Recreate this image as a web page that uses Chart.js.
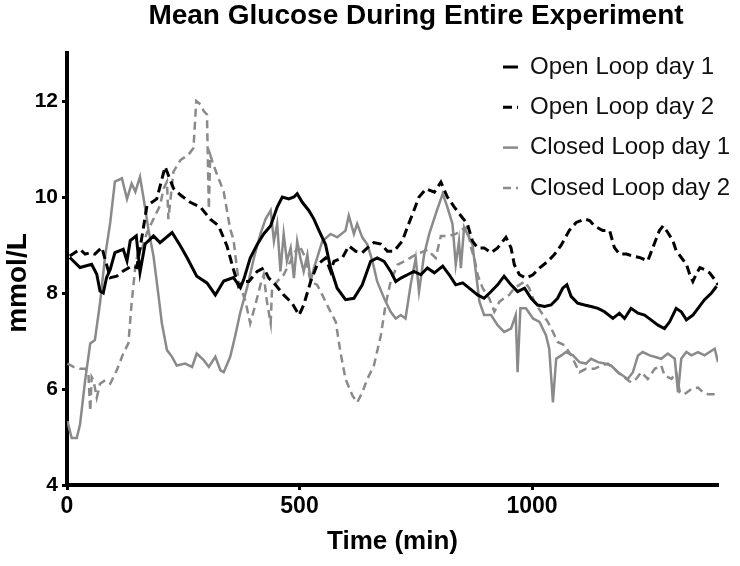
<!DOCTYPE html>
<html lang="en">
<head>
  <meta charset="UTF-8" />
  <title>Mean Glucose During Entire Experiment</title>
  <script src="https://cdn.jsdelivr.net/npm/chart.js"></script>
  <style>
    body {
      margin: 0;
      background: #fff;
    }
    canvas {
      display: block;
    }
  </style>
</head>
<body>

  <canvas id="glucoseChart" width="740" height="566"></canvas>

  <script>
    // time (min) / glucose (mmol/L)
    const olDay1Time = [6, 28, 53, 64, 71, 78, 85, 93, 103, 121, 129, 136, 149, 157, 168, 186, 200, 226, 244, 258, 279, 301, 319, 337, 358, 373,
      380, 394, 409, 423, 438, 452, 463, 477, 488, 495, 506, 520, 531, 542, 556, 567, 581, 599, 617, 635, 653, 667, 682, 696, 707, 718,
      732, 746, 761, 775, 790, 808, 822, 836, 851, 865, 883, 897, 912, 926, 940, 955, 969, 984, 998, 1012, 1027, 1041, 1055, 1066,
      1075, 1084, 1098, 1113, 1127, 1142, 1156, 1174, 1188, 1199, 1213, 1228, 1242, 1256, 1271, 1285, 1296, 1310, 1321, 1332, 1346, 1357, 1371, 1386, 1397];
    const olDay1Value = [8.74, 8.53, 8.60, 8.39, 8.04, 8.00, 8.32, 8.49, 8.84, 8.91, 8.67, 9.09, 9.19, 8.43, 9.02, 9.19, 9.05, 9.26, 8.98, 8.74, 8.35, 8.21, 7.96, 8.25, 8.32, 8.11,
      8.28, 8.73, 9.01, 9.23, 9.40, 9.79, 10.0, 9.96, 10.0, 10.07, 9.89, 9.72, 9.54, 9.30, 9.01, 8.52, 8.10, 7.86, 7.89, 8.17, 8.66, 8.73, 8.66, 8.45, 8.24, 8.31,
      8.38, 8.45, 8.38, 8.52, 8.42, 8.56, 8.38, 8.17, 8.21, 8.10, 7.96, 7.89, 8.03, 8.17, 8.35, 8.17, 8.03, 8.10, 7.89, 7.75, 7.72, 7.75, 7.89, 8.10,
      8.17, 7.93, 7.79, 7.75, 7.72, 7.68, 7.61, 7.47, 7.58, 7.47, 7.68, 7.58, 7.54, 7.44, 7.33, 7.26, 7.40, 7.68, 7.61, 7.44, 7.54, 7.68, 7.86, 8.00, 8.14];

    const olDay2Time = [6, 28, 39, 50, 60, 75, 82, 93, 107, 121, 139, 150, 161, 172, 193, 211, 229, 244, 265, 287, 308, 326, 344, 358, 369,
      380, 391, 409, 423, 434, 445, 466, 484, 499, 509, 524, 538, 556, 567, 574, 592, 606, 621, 635, 646, 660, 675, 689, 703, 721, 732,
      746, 757, 772, 790, 804, 818, 833, 847, 861, 872, 883, 897, 912, 926, 944, 955, 962, 973, 987, 1002, 1016, 1034, 1048, 1063,
      1080, 1095, 1113, 1124, 1134, 1152, 1167, 1177, 1188, 1203, 1217, 1231, 1249, 1260, 1274, 1282, 1292, 1303, 1310, 1321, 1332, 1339, 1346, 1353, 1361, 1371, 1382, 1393, 1400];
    const olDay2Value = [8.77, 8.91, 8.81, 8.84, 8.81, 8.95, 8.70, 8.32, 8.35, 8.46, 8.56, 8.53, 9.16, 9.82, 9.96, 10.63, 10.18, 10.04, 9.89, 9.79, 9.54, 9.40, 8.98, 8.49, 8.14,
      8.24, 8.24, 8.45, 8.52, 8.31, 8.21, 7.96, 7.79, 7.54, 7.75, 8.24, 8.59, 8.73, 8.45, 8.66, 8.73, 8.98, 8.87, 8.84, 8.94, 9.05, 9.02, 8.87, 8.87, 9.08, 9.37,
      9.72, 10.0, 10.17, 10.10, 10.31, 10.0, 9.79, 9.61, 9.44, 9.08, 8.94, 8.94, 8.84, 8.94, 9.16, 8.94, 8.59, 8.38, 8.31, 8.38, 8.52, 8.66, 8.80, 9.00,
      9.30, 9.47, 9.54, 9.51, 9.40, 9.30, 9.30, 8.95, 8.81, 8.81, 8.77, 8.74, 8.67, 8.95, 9.30, 9.40, 9.26, 9.09, 8.88, 8.74, 8.60, 8.39, 8.24, 8.39, 8.53, 8.49, 8.42, 8.28, 8.17];

    const clDay1Time = [1, 10, 21, 28, 39, 50, 60, 71, 82, 93, 103, 118, 129, 139, 147, 157, 165, 175, 186, 197, 204, 215, 226, 236, 254, 269, 279, 294, 305, 319, 330, 337, 351,
      362, 373, 387, 402, 416, 427, 438, 445, 452, 459, 466, 473, 481, 488, 495, 502, 509, 517, 524, 531, 538, 549, 567, 581, 599, 606, 617, 624, 635, 646, 657, 667, 682, 696, 707, 718,
      728, 739, 750, 757, 768, 779, 793, 808, 818, 829, 836, 843, 847, 854, 861, 872, 887, 897, 912, 926, 940, 955, 965, 969, 975, 987, 1002, 1016, 1030, 1037, 1045, 1052, 1063,
      1073, 1088, 1102, 1116, 1127, 1142, 1156, 1170, 1185, 1195, 1206, 1217, 1228, 1238, 1253, 1267, 1278, 1292, 1307, 1314, 1321, 1332, 1343, 1357, 1371, 1382, 1393, 1400];
    const clDay1Value = [5.33, 4.98, 4.98, 5.26, 6.18, 6.95, 7.02, 7.79, 8.77, 9.47, 10.32, 10.39, 9.96, 10.28, 10.11, 10.42, 9.96, 9.33, 8.77, 7.93, 7.37, 6.81, 6.67, 6.49, 6.53, 6.46, 6.74, 6.60, 6.46, 6.67, 6.39, 6.35, 6.67,
      7.12, 7.61, 8.10, 8.73, 9.23, 9.54, 9.72, 9.08, 9.44, 8.45, 9.23, 8.66, 8.94, 8.31, 9.08, 8.73, 8.45, 8.80, 8.24, 8.52, 8.73, 9.08, 9.23, 9.16, 9.30, 9.61, 9.23, 9.44, 9.16, 9.01, 8.66, 8.24, 7.89, 7.61, 7.47, 7.54,
      7.47, 8.17, 8.73, 8.03, 8.80, 9.23, 9.65, 10.07, 9.79, 9.44, 8.59, 9.08, 8.52, 9.37, 9.23, 9.01, 7.82, 7.54, 7.54, 7.33, 7.19, 7.26, 7.54, 6.35, 7.68, 7.68, 7.47, 7.40, 7.12, 6.84, 5.72, 6.63, 6.70,
      6.77, 6.70, 6.56, 6.53, 6.63, 6.56, 6.53, 6.49, 6.35, 6.28, 6.21, 6.35, 6.70, 6.77, 6.70, 6.66, 6.63, 6.74, 6.63, 5.93, 6.63, 6.77, 6.70, 6.77, 6.70, 6.77, 6.84, 6.56];

    const clDay2Time = [1, 14, 28, 39, 46, 50, 53, 57, 64, 71, 82, 93, 107, 121, 132, 139, 147, 154, 161, 172, 186, 200, 208, 215, 218, 229, 244, 261, 272, 278, 287, 294, 301, 305, 308, 315, 323, 337, 351, 358,
      369, 384, 394, 405, 416, 423, 430, 438, 441, 452, 466, 484, 499, 513, 524, 538, 549, 563, 578, 588, 599, 614, 624, 635, 646, 660, 675, 685, 696, 711, 725,
      750, 775, 793, 804, 822, 836, 851, 861, 869, 876, 883, 894, 908, 919, 930, 940, 951, 962, 973, 984, 994, 1005, 1019, 1034, 1045, 1055, 1070,
      1084, 1102, 1116, 1134, 1149, 1163, 1177, 1192, 1203, 1213, 1224, 1235, 1249, 1264, 1278, 1285, 1300, 1310, 1318, 1328, 1343, 1357, 1368, 1379, 1393, 1400];
    const clDay2Value = [6.53, 6.46, 6.42, 6.42, 6.32, 5.54, 6.25, 6.18, 5.82, 6.11, 6.18, 6.11, 6.39, 6.74, 6.95, 7.79, 8.56, 8.91, 8.91, 9.26, 9.54, 9.82, 10.18, 10.32, 9.54, 10.53, 10.77, 10.88, 11.02, 12.0, 11.93, 11.79, 11.72, 9.75, 10.88, 10.67, 10.46, 10.11, 9.33, 9.12,
      8.24, 7.82, 7.37, 7.75, 8.17, 8.38, 7.82, 7.37, 8.10, 8.24, 8.38, 8.73, 9.01, 8.73, 8.24, 8.17, 7.96, 7.68, 7.40, 6.77, 6.21, 5.86, 5.72, 5.93, 6.21, 6.49, 7.12, 7.75, 8.24, 8.59, 8.66,
      8.80, 8.90, 8.73, 9.19, 9.19, 9.23, 9.33, 9.37, 8.94, 8.73, 8.38, 8.10, 7.89, 7.61, 7.82, 7.89, 7.96, 8.10, 8.17, 8.24, 8.10, 7.82, 7.61, 7.40, 7.19, 6.98, 6.91,
      6.70, 6.35, 6.42, 6.42, 6.49, 6.53, 6.42, 6.28, 6.21, 6.14, 6.21, 6.35, 6.21, 6.42, 6.49, 6.28, 6.21, 6.35, 5.93, 5.89, 6.00, 6.03, 5.93, 5.89, 5.89, 5.89];

    const seriesLabels = ['Open Loop day 1', 'Open Loop day 2', 'Closed Loop day 1', 'Closed Loop day 2'];
    const xTicks = [0, 500, 1000];
    const yTicks = [4, 6, 8, 10, 12];

    const FONT = "'Liberation Sans', Arial, sans-serif";

    function toPoints(times, values) {
      return times.map((t, i) => ({ x: t, y: values[i] }));
    }

    // title, y title and in-plot legend, placed where the figure has them
    const figureText = {
      id: 'figureText',
      afterDraw(chart) {
        const ctx = chart.ctx;
        ctx.save();
        ctx.fillStyle = '#000';
        ctx.font = 'bold 28px ' + FONT;
        ctx.textAlign = 'center';
        ctx.textBaseline = 'middle';
        ctx.fillText('Mean Glucose During Entire Experiment', 416, 16);

        ctx.save();
        ctx.translate(18, 283);
        ctx.rotate(-Math.PI / 2);
        ctx.fillText('mmol/L', 0, 0);
        ctx.restore();

        ctx.font = '24px ' + FONT;
        ctx.textAlign = 'left';
        chart.data.datasets.forEach((ds, i) => {
          const y = 67 + i * 40.3;
          ctx.strokeStyle = ds.borderColor;
          ctx.lineWidth = ds.borderWidth;
          ctx.setLineDash(ds.borderDash || []);
          ctx.beginPath();
          ctx.moveTo(503, y);
          ctx.lineTo(518, y);
          ctx.stroke();
          ctx.setLineDash([]);
          ctx.fillStyle = '#111';
          ctx.fillText(ds.label, 530, y);
        });
        ctx.restore();
      }
    };

    const ctx = document.getElementById('glucoseChart').getContext('2d');
    new Chart(ctx, {
      type: 'line',
      data: {
        datasets: [
          { label: seriesLabels[0], data: toPoints(olDay1Time, olDay1Value), borderColor: '#000', borderWidth: 3 },
          { label: seriesLabels[1], data: toPoints(olDay2Time, olDay2Value), borderColor: '#000', borderWidth: 3, borderDash: [9, 5] },
          { label: seriesLabels[2], data: toPoints(clDay1Time, clDay1Value), borderColor: '#8a8a8a', borderWidth: 2.5 },
          { label: seriesLabels[3], data: toPoints(clDay2Time, clDay2Value), borderColor: '#8a8a8a', borderWidth: 2.5, borderDash: [8, 5] }
        ]
      },
      options: {
        responsive: false,
        animation: false,
        layout: { padding: { top: 53, right: 22, left: 0, bottom: 0 } },
        elements: {
          point: { radius: 0 },
          line: { tension: 0, fill: false }
        },
        plugins: {
          legend: { display: false },
          title: { display: false },
          tooltip: { enabled: false }
        },
        scales: {
          x: {
            type: 'linear',
            min: 0,
            max: 1400,
            afterFit: s => { s.height = 81; },
            afterBuildTicks: s => { s.ticks = xTicks.map(v => ({ value: v })); },
            border: { color: '#000', width: 4 },
            grid: { drawOnChartArea: false, drawTicks: true, tickLength: 5, tickWidth: 3, tickColor: '#000' },
            ticks: {
              padding: 3,
              color: '#000',
              callback: v => String(v),
              font: { family: FONT, size: 23, weight: 'bold' }
            },
            title: {
              display: true,
              text: 'Time (min)',
              color: '#000',
              padding: { top: 0, bottom: 9 },
              font: { family: FONT, size: 26, weight: 'bold' }
            }
          },
          y: {
            min: 4,
            max: 13,
            afterFit: s => { s.width = 67; },
            afterBuildTicks: s => { s.ticks = yTicks.map(v => ({ value: v })); },
            border: { color: '#000', width: 4 },
            grid: { drawOnChartArea: false, drawTicks: true, tickLength: 5, tickWidth: 3, tickColor: '#000' },
            ticks: {
              padding: 4,
              color: '#000',
              callback: v => String(v),
              font: { family: FONT, size: 21, weight: 'bold' }
            }
          }
        }
      },
      plugins: [figureText]
    });
  </script>
</body>
</html>
